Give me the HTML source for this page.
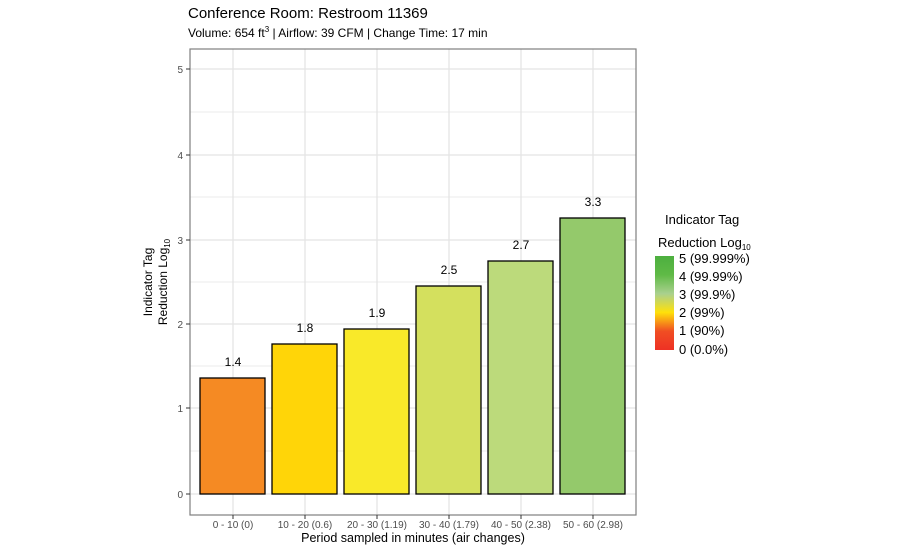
<!DOCTYPE html>
<html><head><style>body{margin:0;background:#fff}svg{font-family:"Liberation Sans",Arial,sans-serif}</style></head><body>
<svg width="900" height="550" viewBox="0 0 900 550">
<defs><linearGradient id="g" x1="0" y1="1" x2="0" y2="0">
<stop offset="0" stop-color="#ee3124"/><stop offset="0.2" stop-color="#f04e23"/><stop offset="0.4" stop-color="#ffe10a"/><stop offset="0.6" stop-color="#a9d08e"/><stop offset="0.8" stop-color="#5fba46"/><stop offset="1" stop-color="#4caf3f"/></linearGradient></defs>
<text x="188" y="18" font-size="15" fill="#000">Conference Room: Restroom 11369</text>
<text x="188" y="37" font-size="12" fill="#000">Volume: 654 ft<tspan font-size="8" dy="-5">3</tspan><tspan dy="5">  | Airflow: 39 CFM | Change Time: 17 min</tspan></text>
<g stroke="#ebebeb" stroke-width="1">
<line x1="190" x2="636" y1="451" y2="451"/><line x1="190" x2="636" y1="366" y2="366"/><line x1="190" x2="636" y1="282" y2="282"/><line x1="190" x2="636" y1="197" y2="197"/><line x1="190" x2="636" y1="112" y2="112"/>
</g>
<g stroke="#e4e4e4" stroke-width="1.3">
<line x1="190" x2="636" y1="494" y2="494"/><line x1="190" x2="636" y1="408" y2="408"/><line x1="190" x2="636" y1="324" y2="324"/><line x1="190" x2="636" y1="240" y2="240"/><line x1="190" x2="636" y1="155" y2="155"/><line x1="190" x2="636" y1="69" y2="69"/>
<line x1="233" x2="233" y1="49" y2="515"/><line x1="305" x2="305" y1="49" y2="515"/><line x1="377" x2="377" y1="49" y2="515"/><line x1="449" x2="449" y1="49" y2="515"/><line x1="521" x2="521" y1="49" y2="515"/><line x1="593" x2="593" y1="49" y2="515"/>
</g>
<g stroke="#000" stroke-width="1.3">
<rect x="200" y="378" width="65" height="116" fill="#f58a23"/>
<rect x="272" y="344" width="65" height="150" fill="#ffd508"/>
<rect x="344" y="329" width="65" height="165" fill="#f9e929"/>
<rect x="416" y="286" width="65" height="208" fill="#d4e05e"/>
<rect x="488" y="261" width="65" height="233" fill="#bcda7b"/>
<rect x="560" y="218" width="65" height="276" fill="#94c96b"/>
</g>
<g font-size="12" text-anchor="middle" fill="#000">
<text x="233" y="366">1.4</text><text x="305" y="332">1.8</text><text x="377" y="317">1.9</text><text x="449" y="274">2.5</text><text x="521" y="249">2.7</text><text x="593" y="206">3.3</text>
</g>
<rect x="190" y="49" width="446" height="466" fill="none" stroke="#7f7f7f" stroke-width="1.2"/>
<g stroke="#333" stroke-width="1">
<line x1="186" x2="190" y1="494" y2="494"/><line x1="186" x2="190" y1="408" y2="408"/><line x1="186" x2="190" y1="324" y2="324"/><line x1="186" x2="190" y1="240" y2="240"/><line x1="186" x2="190" y1="155" y2="155"/><line x1="186" x2="190" y1="69" y2="69"/>
<line x1="233" x2="233" y1="515" y2="519"/><line x1="305" x2="305" y1="515" y2="519"/><line x1="377" x2="377" y1="515" y2="519"/><line x1="449" x2="449" y1="515" y2="519"/><line x1="521" x2="521" y1="515" y2="519"/><line x1="593" x2="593" y1="515" y2="519"/>
</g>
<g font-size="10" fill="#4d4d4d" text-anchor="end">
<text x="183" y="498">0</text><text x="183" y="412">1</text><text x="183" y="328">2</text><text x="183" y="244">3</text><text x="183" y="159">4</text><text x="183" y="73">5</text>
</g>
<g font-size="10" fill="#4d4d4d" text-anchor="middle">
<text x="233" y="528">0 - 10 (0)</text><text x="305" y="528">10 - 20 (0.6)</text><text x="377" y="528">20 - 30 (1.19)</text><text x="449" y="528">30 - 40 (1.79)</text><text x="521" y="528">40 - 50 (2.38)</text><text x="593" y="528">50 - 60 (2.98)</text>
</g>
<text x="413" y="542" font-size="12.5" text-anchor="middle">Period sampled in minutes (air changes)</text>
<text transform="translate(152,282) rotate(-90)" font-size="12" text-anchor="middle">Indicator Tag</text>
<text transform="translate(167,282) rotate(-90)" font-size="12" text-anchor="middle">Reduction Log<tspan font-size="8" dy="3">10</tspan></text>
<text x="665" y="224" font-size="13">Indicator Tag</text>
<text x="658" y="247" font-size="13">Reduction Log<tspan font-size="8" dy="3">10</tspan></text>
<rect x="655" y="256" width="19" height="94" fill="url(#g)"/>
<g font-size="13" fill="#000">
<text x="679" y="263">5 (99.999%)</text><text x="679" y="281">4 (99.99%)</text><text x="679" y="299">3 (99.9%)</text><text x="679" y="317">2 (99%)</text><text x="679" y="335">1 (90%)</text><text x="679" y="354">0 (0.0%)</text>
</g>
</svg>
</body></html>
